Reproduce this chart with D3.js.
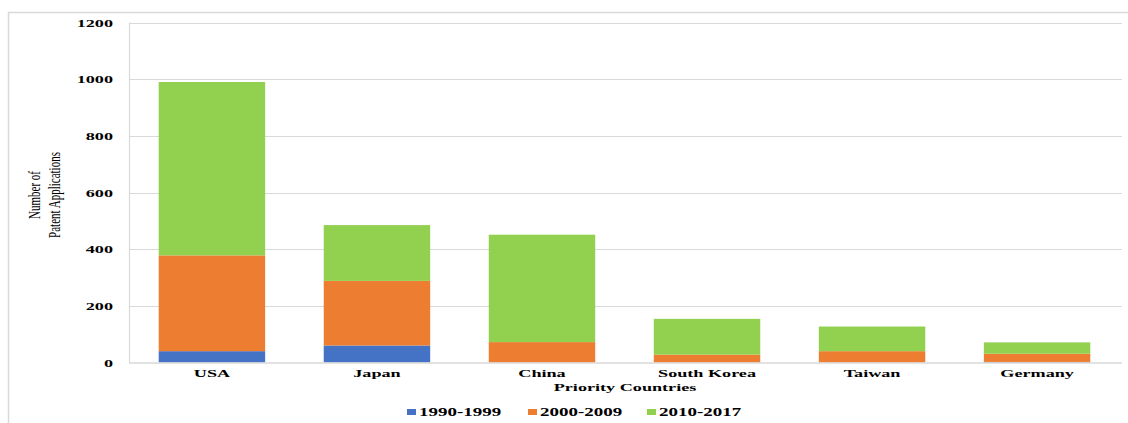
<!DOCTYPE html>
<html>
<head>
<meta charset="utf-8">
<script src="https://cdn.jsdelivr.net/npm/d3@7"></script>
<style>
  body { margin: 0; background: #fff; }
  text { font-family: "Liberation Serif", "Times New Roman", serif; fill: #000; }
</style>
</head>
<body>
<svg id="chart" width="1128" height="423"></svg>
<script>
// ---------- data ---------- //
var countries = ["USA", "Japan", "China", "South Korea", "Taiwan", "Germany"];
var periods = ["1990-1999", "2000-2009", "2010-2017"];
var s1990 = [40, 60, 0, 0, 0, 2];
var s2000 = [338, 228, 72, 28, 40, 29];
var s2010 = [612, 197, 379, 126, 87, 40];
var yTicks = [0, 200, 400, 600, 800, 1000, 1200];
var colors = ["#4472C4", "#ED7D31", "#92D050"];

var rows = countries.map(function(c, i) {
	return { country: c, "1990-1999": s1990[i], "2000-2009": s2000[i], "2010-2017": s2010[i] };
});

var svg = d3.select("#chart");
var stretch = 1.65; // text in the picture is stretched sideways

// outer frame
svg.append("rect")
	.attr("x", 8.5).attr("y", 12.5)
	.attr("width", 1300).attr("height", 600)
	.attr("fill", "none").attr("stroke", "#d9d9d9").attr("stroke-width", 1.5);

var plotLeft = 129, plotRight = 1120, plotTop = 22.5, plotBottom = 362.5;

var x = d3.scaleBand().domain(countries).range([plotLeft, plotRight]).paddingInner(0.355).paddingOuter(0.18);
var y = d3.scaleLinear().domain([0, 1200]).range([plotBottom, plotTop]);

// gridlines
svg.append("g").selectAll("line")
	.data(yTicks.filter(function(d) { return d > 0; }))
	.join("line")
	.attr("x1", plotLeft).attr("x2", 1122)
	.attr("y1", function(d) { return Math.round(y(d)) + 0.5; })
	.attr("y2", function(d) { return Math.round(y(d)) + 0.5; })
	.attr("stroke", "#d9d9d9").attr("stroke-width", 1.2);

// y axis line
svg.append("line")
	.attr("x1", plotLeft + 0.5).attr("x2", plotLeft + 0.5)
	.attr("y1", y(1200)).attr("y2", y(0))
	.attr("stroke", "#d9d9d9").attr("stroke-width", 1.2);

// stacked bars
var stack = d3.stack().keys(periods)(rows);
svg.append("g").selectAll("g")
	.data(stack)
	.join("g")
	.attr("fill", function(d, i) { return colors[i]; })
	.selectAll("rect")
	.data(function(d) { return d; })
	.join("rect")
	.attr("x", function(d) { return x(d.data.country); })
	.attr("width", x.bandwidth())
	.attr("y", function(d) { return y(d[1]); })
	.attr("height", function(d) { return y(d[0]) - y(d[1]); });

// baseline
svg.append("line")
	.attr("x1", plotLeft).attr("x2", 1122)
	.attr("y1", y(0) + 0.5).attr("y2", y(0) + 0.5)
	.attr("stroke", "#d9d9d9").attr("stroke-width", 1.5);

// y tick labels
svg.append("g").selectAll("text")
	.data(yTicks)
	.join("text")
	.attr("transform", function(d) { return "translate(113," + (y(d) + 4) + ") scale(" + stretch + ",1)"; })
	.attr("text-anchor", "end")
	.attr("font-size", "11px")
	.attr("font-weight", "bold")
	.text(function(d) { return d; });

// category labels
svg.append("g").selectAll("text")
	.data(countries)
	.join("text")
	.attr("transform", function(d) { return "translate(" + (x(d) + x.bandwidth() / 2) + ",377) scale(" + stretch + ",1)"; })
	.attr("text-anchor", "middle")
	.attr("font-size", "11px")
	.attr("font-weight", "bold")
	.text(function(d) { return d; });

// x axis title
svg.append("text")
	.attr("transform", "translate(625,391) scale(" + stretch + ",1)")
	.attr("text-anchor", "middle")
	.attr("font-size", "11px")
	.attr("font-weight", "bold")
	.text("Priority Countries");

// y axis title
var yTitle = svg.append("g")
	.attr("transform", "translate(40,195) scale(1.5,1) rotate(-90)");
yTitle.append("text")
	.attr("text-anchor", "middle")
	.attr("font-size", "11px")
	.text("Number of");
yTitle.append("text")
	.attr("y", 13.3)
	.attr("text-anchor", "middle")
	.attr("font-size", "11px")
	.text("Patent Applications");

// legend
var legendX = [407, 528, 647];
var legend = svg.append("g").selectAll("g")
	.data(periods)
	.join("g")
	.attr("transform", function(d, i) { return "translate(" + legendX[i] + ",0)"; });
legend.append("rect")
	.attr("x", 0).attr("y", 409)
	.attr("width", 9).attr("height", 6)
	.attr("fill", function(d, i) { return colors[i]; });
legend.append("text")
	.attr("transform", "translate(12,416) scale(" + stretch + ",1)")
	.attr("font-size", "11.5px")
	.attr("font-weight", "bold")
	.text(function(d) { return d; });
</script>
</body>
</html>
